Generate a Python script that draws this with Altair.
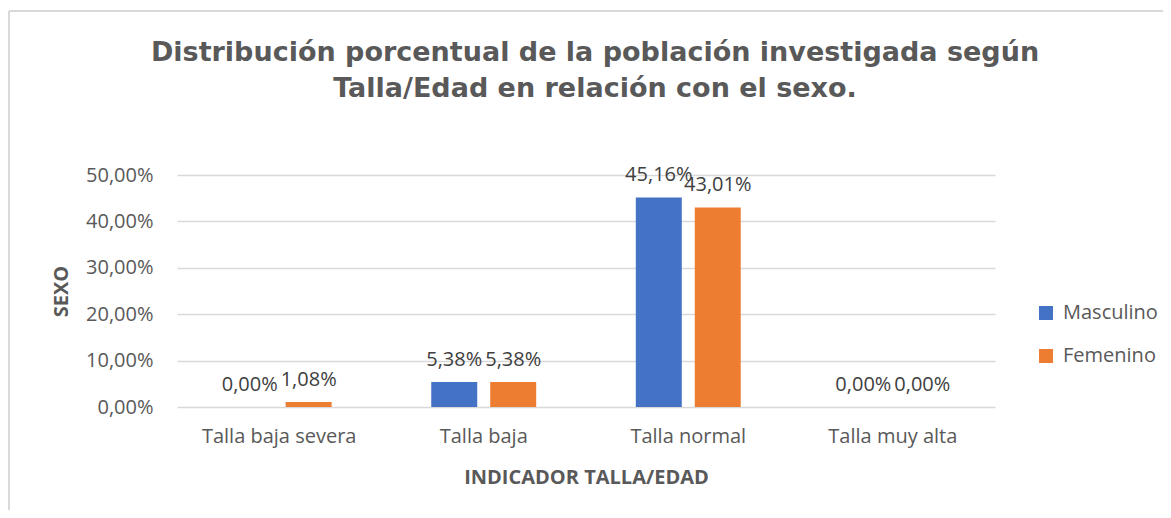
import altair as alt
import pandas as pd

categories = ["Talla baja severa", "Talla baja", "Talla normal", "Talla muy alta"]
series = ["Masculino", "Femenino"]
masculino = [0.0, 5.38, 45.16, 0.0]
femenino = [1.08, 5.38, 43.01, 0.0]
colors = ["#4472C4", "#ED7D31"]

rows = []
for c, m, f in zip(categories, masculino, femenino):
    rows.append({"cat": c, "sexo": "Masculino", "v": m / 100})
    rows.append({"cat": c, "sexo": "Femenino", "v": f / 100})
df = pd.DataFrame(rows)

LBL = "Open Sans"
TXT = "#595959"
FS = 20

base = alt.Chart(df).transform_calculate(
    lab="replace(format(datum.v, '.2%'), '.', ',')"
).encode(
    x=alt.X("cat:N", sort=categories,
            scale=alt.Scale(paddingInner=0.487, paddingOuter=0.243),
            axis=alt.Axis(title="INDICADOR TALLA/EDAD", labelAngle=0, ticks=False, domain=False,
                          labelFont=LBL, labelFontSize=FS, labelColor=TXT, labelPadding=19,
                          titleFont=LBL, titleFontSize=FS, titleFontWeight="bold", titleColor=TXT,
                          titlePadding=21)),
    xOffset=alt.XOffset("sexo:N", sort=series, scale=alt.Scale(paddingInner=0.22, paddingOuter=0)),
)

bars = base.mark_bar().encode(
    y=alt.Y("v:Q", scale=alt.Scale(domain=[0, 0.5]),
            axis=alt.Axis(title="SEXO", values=[0, 0.1, 0.2, 0.3, 0.4, 0.5],
                          labelExpr="replace(format(datum.value, '.2%'), '.', ',')",
                          ticks=False, domain=False, grid=True, gridColor="#d9d9d9", gridWidth=1.5,
                          labelFont=LBL, labelFontSize=FS, labelColor=TXT, labelPadding=24,
                          titleFont=LBL, titleFontSize=FS, titleFontWeight="bold", titleColor=TXT,
                          titlePadding=14)),
    color=alt.Color("sexo:N", sort=series,
                    scale=alt.Scale(domain=series, range=colors),
                    legend=alt.Legend(title=None, orient="none", legendX=859, legendY=128,
                                      symbolType="square", symbolSize=196, symbolStrokeWidth=0,
                                      labelFont=LBL, labelFontSize=FS, labelColor=TXT,
                                      rowPadding=23, labelOffset=7)),
)

labels = base.mark_text(font=LBL, fontSize=FS, color="#404040", baseline="middle", dy=-22).encode(
    y=alt.Y("v:Q"),
    text="lab:N",
)

one = pd.DataFrame({"a": [0]})
top_border = alt.Chart(one).mark_rule(color="#d9d9d9", strokeWidth=2).encode(
    x=alt.value(-168), x2=alt.value(1000), y=alt.value(-164))
left_border = alt.Chart(one).mark_rule(color="#d9d9d9", strokeWidth=2).encode(
    x=alt.value(-168), y=alt.value(-164), y2=alt.value(360))

chart = alt.layer(top_border, left_border, bars, labels).properties(
    width=818, height=232,
    autosize=alt.AutoSizeParams(type="none"),
    padding={"left": 169, "top": 167, "right": 168, "bottom": 103},
    title=alt.TitleParams(
        text=["Distribución porcentual de la población investigada según",
              "Talla/Edad en relación con el sexo."],
        font="DejaVu Sans", fontSize=27, fontWeight="bold", color=TXT,
        lineHeight=36, anchor="middle", offset=-93, dx=9),
).configure_view(stroke=None)

chart.save("out.html", embed_options={"renderer": "svg", "actions": False})
